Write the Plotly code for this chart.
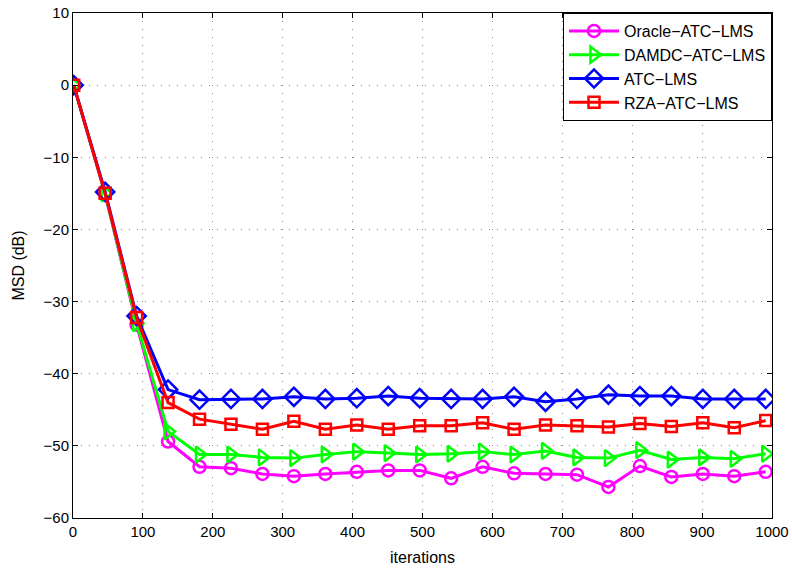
import plotly.graph_objects as go

# Iteration index of each plotted sample (every 45 iterations)
iterations = [1, 46, 91, 136, 181, 226, 271, 316, 361, 406, 451, 496,
              541, 586, 631, 676, 721, 766, 811, 856, 901, 946, 991]

msd_oracle = [0.0, -15.1, -33.2, -49.4, -52.9, -53.1, -53.9, -54.2, -53.9, -53.6, -53.4, -53.4,
              -54.5, -52.9, -53.8, -53.9, -54.0, -55.7, -52.8, -54.3, -53.9, -54.2, -53.6]
msd_damdc = [0.0, -15.0, -33.0, -48.0, -51.2, -51.2, -51.6, -51.7, -51.2, -50.8, -51.0, -51.2,
             -51.1, -50.8, -51.2, -50.7, -51.6, -51.7, -50.6, -51.9, -51.6, -51.8, -51.1]
msd_atc = [0.0, -14.8, -32.0, -42.2, -43.6, -43.5, -43.5, -43.2, -43.5, -43.4, -43.1, -43.4,
           -43.5, -43.5, -43.2, -43.9, -43.5, -42.9, -43.1, -43.1, -43.5, -43.5, -43.5]
msd_rza = [0.0, -15.0, -32.2, -44.0, -46.3, -47.0, -47.7, -46.6, -47.7, -47.1, -47.7, -47.2,
           -47.2, -46.8, -47.7, -47.1, -47.2, -47.4, -46.9, -47.3, -46.8, -47.5, -46.5]

series = [
    ("Oracle\u2212ATC\u2212LMS", msd_oracle, "#ff00ff", "circle-open", 12),
    ("DAMDC\u2212ATC\u2212LMS", msd_damdc, "#00ff00", "triangle-right-open", 14),
    ("ATC\u2212LMS", msd_atc, "#0000ff", "diamond-open", 14),
    ("RZA\u2212ATC\u2212LMS", msd_rza, "#ff0000", "square-open", 11),
]

x_ticks = [0, 100, 200, 300, 400, 500, 600, 700, 800, 900, 1000]
y_ticks = [10, 0, -10, -20, -30, -40, -50, -60]
y_tick_text = ["10", "0", "\u221210", "\u221220", "\u221230", "\u221240", "\u221250", "\u221260"]

fig = go.Figure()
for name, vals, color, symbol, size in series:
    fig.add_trace(go.Scatter(
        x=iterations, y=vals, name=name, mode="lines+markers",
        line=dict(color=color, width=3),
        marker=dict(symbol=symbol, size=size, color=color,
                    line=dict(color=color, width=2.5)),
    ))

axis_common = dict(
    showline=True, linecolor="black", linewidth=1, mirror="ticks",
    ticks="inside", ticklen=5, tickcolor="black",
    showgrid=True, gridcolor="#8a8a8a", griddash="1px,7px", gridwidth=1,
    zeroline=False, tickfont=dict(size=15, color="black"),
    automargin=False,
)

fig.update_xaxes(range=[0, 1000], tickvals=x_ticks,
                 title=dict(text="iterations", font=dict(size=16, color="black"), standoff=12),
                 **axis_common)
fig.update_yaxes(range=[-60, 10], tickvals=y_ticks, ticktext=y_tick_text,
                 title=dict(text="MSD (dB)", font=dict(size=16, color="black"), standoff=14),
                 **axis_common)

fig.update_layout(
    width=792, height=572,
    margin=dict(l=73, r=20, t=13, b=54),
    paper_bgcolor="white", plot_bgcolor="white",
    font=dict(family="Liberation Sans, Arial, sans-serif", color="black"),
    showlegend=True,
    legend=dict(x=1, y=1, xanchor="right", yanchor="top",
                bgcolor="white", bordercolor="black", borderwidth=1,
                font=dict(size=16, color="black"), itemwidth=50,
                tracegroupgap=0),
)

fig.write_html("out.html")
